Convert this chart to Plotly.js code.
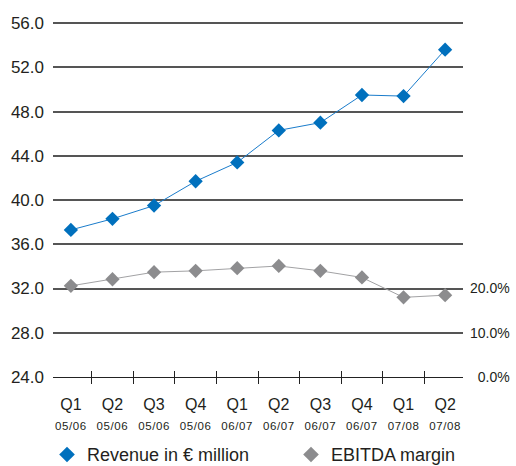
<!DOCTYPE html>
<html>
<head>
<meta charset="utf-8">
<script src="https://cdn.plot.ly/plotly-3.0.1.min.js"></script>
<style>
  html, body { margin: 0; padding: 0; background: #ffffff; }
  #chart { width: 516px; height: 466px; }
</style>
</head>
<body>
<div id="chart"></div>
<script>
// Quarterly categories (fiscal quarters) and their two-line labels
const quarters = ["Q1 05/06", "Q2 05/06", "Q3 05/06", "Q4 05/06", "Q1 06/07",
                  "Q2 06/07", "Q3 06/07", "Q4 06/07", "Q1 07/08", "Q2 07/08"];
const quarterNames = ["Q1", "Q2", "Q3", "Q4", "Q1", "Q2", "Q3", "Q4", "Q1", "Q2"];
const fiscalYears = ["05/06", "05/06", "05/06", "05/06", "06/07",
                     "06/07", "06/07", "06/07", "07/08", "07/08"];

// Revenue in EUR million (left axis)
const revenue = [37.3, 38.3, 39.5, 41.7, 43.4, 46.3, 47.0, 49.5, 49.4, 53.6];
// EBITDA margin in percent (right axis)
const ebitdaMargin = [20.6, 22.1, 23.7, 24.0, 24.6, 25.1, 24.0, 22.5, 18.0, 18.5];

// Axis ticks
const revenueTicks = [24, 28, 32, 36, 40, 44, 48, 52, 56];
const marginTicks = [0, 10, 20];
const marginTickText = ["\u20070.0%", "10.0%", "20.0%"];

// Legend labels
const revenueLabel = "Revenue in \u20ac million";
const marginLabel = "EBITDA margin";

const FONT = "Liberation Sans, Arial, Helvetica, sans-serif";
const INK = "#231f20";
const BLUE = "#0070bd";
const GREY = "#8c8c8e";

// Left axis spans 24..56 plus a sliver of headroom so the 56 gridline is kept;
// the right axis maps 4 revenue units to 10 percentage points.
const revRange = [24, 56.1];
const marginRange = [0, (revRange[1] - revRange[0]) * 2.5];

const tickText = quarterNames.map((q, i) =>
  "<span style='font-size:16px'>" + q + "</span><br>" +
  "<span style='font-size:11.5px;letter-spacing:0.6px'>" + fiscalYears[i] + "</span>");

const traces = [
  {
    x: quarters, y: revenue, name: revenueLabel,
    type: "scatter", mode: "lines+markers",
    xaxis: "x", yaxis: "y", showlegend: false,
    line: { color: "#1a7ccb", width: 1 },
    marker: { symbol: "diamond", size: 11, color: BLUE },
    hoverinfo: "skip"
  },
  {
    x: quarters, y: ebitdaMargin, name: marginLabel,
    type: "scatter", mode: "lines+markers",
    xaxis: "x", yaxis: "y2", showlegend: false,
    line: { color: "#a2a2a4", width: 1 },
    marker: { symbol: "diamond", size: 11, color: GREY },
    hoverinfo: "skip"
  },
  {
    // carries the upward half of the boundary tick marks
    x: quarters, y: revenue, type: "scatter", mode: "none",
    xaxis: "x2", yaxis: "y", showlegend: false, hoverinfo: "skip"
  },
  // marker-only legend keys
  {
    x: [null], y: [null], name: revenueLabel, type: "scatter", mode: "markers",
    marker: { symbol: "diamond", size: 12, color: BLUE },
    legend: "legend", showlegend: true, hoverinfo: "skip"
  },
  {
    x: [null], y: [null], name: marginLabel, type: "scatter", mode: "markers",
    marker: { symbol: "diamond", size: 12, color: GREY },
    legend: "legend2", showlegend: true, hoverinfo: "skip"
  }
];

const legendBase = {
  orientation: "h", xanchor: "left", yanchor: "middle", y: -0.219,
  font: { family: FONT, size: 18, color: INK },
  bgcolor: "rgba(0,0,0,0)"
};

const layout = {
  width: 516, height: 466,
  paper_bgcolor: "#ffffff", plot_bgcolor: "#ffffff",
  font: { family: FONT, color: INK },
  margin: { l: 53, r: 53, t: 22, b: 89, autoexpand: false },
  showlegend: true,
  legend: Object.assign({}, legendBase, { x: -0.0146 }),
  legend2: Object.assign({}, legendBase, { x: 0.5805 }),
  xaxis: {
    type: "category", categoryarray: quarters,
    range: [-0.43, 9.43], fixedrange: true,
    tickmode: "array", tickvals: quarters, ticktext: tickText,
    tickson: "boundaries", ticks: "outside", ticklen: 6, tickwidth: 1, tickcolor: "#222",
    showline: true, linecolor: "#222", linewidth: 1,
    showgrid: false, zeroline: false,
    tickfont: { family: FONT, size: 15, color: INK },
    ticklabelstandoff: 14
  },
  xaxis2: {
    type: "category", categoryarray: quarters, overlaying: "x", anchor: "y",
    range: [-0.43, 9.43], fixedrange: true,
    tickson: "boundaries", ticks: "inside", ticklen: 6, tickwidth: 1, tickcolor: "#222",
    showticklabels: false, showline: false, showgrid: false, zeroline: false
  },
  yaxis: {
    range: revRange, fixedrange: true,
    tickmode: "array", tickvals: revenueTicks, tickformat: ".1f",
    showgrid: true, gridcolor: "#555555", gridwidth: 2,
    zeroline: false, showline: false, ticks: "",
    tickfont: { family: FONT, size: 17, color: INK },
    ticklabelstandoff: 8
  },
  yaxis2: {
    overlaying: "y", side: "right", anchor: "x",
    range: marginRange, fixedrange: true,
    tickmode: "array", tickvals: marginTicks, ticktext: marginTickText,
    showgrid: false, zeroline: false, showline: false, ticks: "",
    tickfont: { family: FONT, size: 14, color: INK },
    ticklabelstandoff: 6
  }
};

Plotly.newPlot("chart", traces, layout, { staticPlot: true, displayModeBar: false });
</script>
</body>
</html>
